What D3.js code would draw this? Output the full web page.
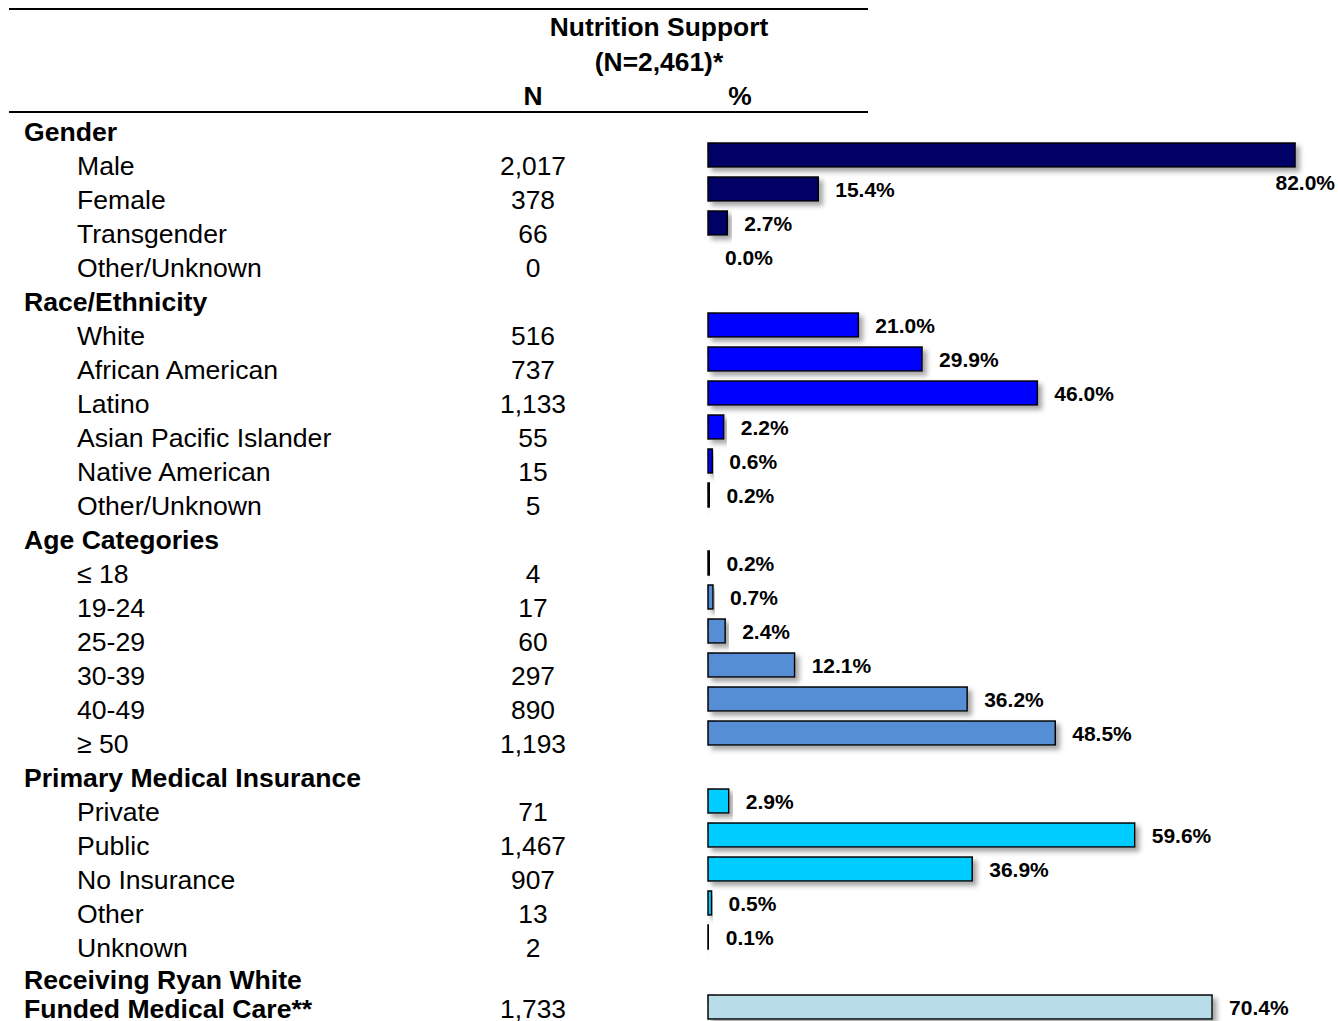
<!DOCTYPE html>
<html>
<head>
<meta charset="utf-8">
<script src="https://cdn.jsdelivr.net/npm/d3@7"></script>
<style>
  body { margin: 0; background: #fff; }
  svg text { font-family: Arial, "Liberation Sans", sans-serif; fill: #000; }
  .group { font-weight: bold; font-size: 26.6px; }
  .item { font-size: 26.6px; }
  .count { font-size: 26.4px; text-anchor: middle; }
  .head { font-weight: bold; font-size: 26.4px; text-anchor: middle; }
  .pct { font-weight: bold; font-size: 21px; }
  .bar { stroke: #000; stroke-width: 1.5; }
</style>
</head>
<body>
<div id="chart"></div>
<script>
'use strict'

const groupNames = ['Gender', 'Race/Ethnicity', 'Age Categories', 'Primary Medical Insurance']
const groupColors = ['#000066', '#0000ff', '#558ed5', '#00ccff']

const genderLabels = ['Male', 'Female', 'Transgender', 'Other/Unknown']
const genderN = [2017, 378, 66, 0]
const genderPct = [82.0, 15.4, 2.7, 0.0]

const raceLabels = ['White', 'African American', 'Latino', 'Asian Pacific Islander', 'Native American', 'Other/Unknown']
const raceN = [516, 737, 1133, 55, 15, 5]
const racePct = [21.0, 29.9, 46.0, 2.2, 0.6, 0.2]

const ageLabels = ['\u2264 18', '19-24', '25-29', '30-39', '40-49', '\u2265 50']
const ageN = [4, 17, 60, 297, 890, 1193]
const agePct = [0.2, 0.7, 2.4, 12.1, 36.2, 48.5]

const insuranceLabels = ['Private', 'Public', 'No Insurance', 'Other', 'Unknown']
const insuranceN = [71, 1467, 907, 13, 2]
const insurancePct = [2.9, 59.6, 36.9, 0.5, 0.1]

const ryanWhiteLabel = ['Receiving Ryan White', 'Funded Medical Care**']
const ryanWhiteN = 1733
const ryanWhitePct = 70.4
const ryanWhiteColor = '#b7dde8'

const width = 1338
const height = 1021
const barH = 24
const fmt = d3.format(',')

// flatten groups into table rows
const groupData = [
  [genderLabels, genderN, genderPct],
  [raceLabels, raceN, racePct],
  [ageLabels, ageN, agePct],
  [insuranceLabels, insuranceN, insurancePct]
]
const headRows = []
const rows = []
let idx = 0
groupData.forEach(([labels, ns, pcts], g) => {
  headRows.push({ label: groupNames[g], idx: idx++ })
  labels.forEach((label, i) => {
    rows.push({ label, n: ns[i], pct: pcts[i], color: groupColors[g], idx: idx++, shift: -11 })
  })
})
const lastIdx = idx
rows.push({ label: null, n: ryanWhiteN, pct: ryanWhitePct, color: ryanWhiteColor, idx: lastIdx, shift: 26, barShift: 25 })

const rowY = d3.scaleLinear().domain([0, 25]).range([132, 982])
const x = d3.scaleLinear().domain([0, 100]).range([708, 1424])

const svg = d3.select('#chart')
  .append('svg')
  .attr('width', width)
  .attr('height', height)

const shadow = svg.append('defs')
  .append('filter')
  .attr('id', 'shadow')
  .attr('x', '-20%').attr('y', '-40%')
  .attr('width', '140%').attr('height', '200%')
shadow.append('feDropShadow')
  .attr('dx', 4).attr('dy', 4)
  .attr('stdDeviation', 2.5)
  .attr('flood-color', '#7f7f7f')
  .attr('flood-opacity', 0.7)

function drawHeader () {
  svg.selectAll('line.rule')
    .data([9, 112])
    .enter()
    .append('line')
    .attr('class', 'rule')
    .attr('x1', 9)
    .attr('x2', 868)
    .attr('y1', d => d)
    .attr('y2', d => d)
    .attr('stroke', '#000')
    .attr('stroke-width', 2)

  const heads = [
    { text: 'Nutrition Support', x: 659, y: 27 },
    { text: '(N=2,461)*', x: 659, y: 62 },
    { text: 'N', x: 533, y: 96 },
    { text: '%', x: 740, y: 96 }
  ]
  svg.selectAll('text.head')
    .data(heads)
    .enter()
    .append('text')
    .attr('class', 'head')
    .attr('x', d => d.x)
    .attr('y', d => d.y)
    .attr('dy', '0.35em')
    .text(d => d.text)
}

function drawRows () {
  svg.selectAll('text.group')
    .data(headRows)
    .enter()
    .append('text')
    .attr('class', 'group')
    .attr('x', 24)
    .attr('y', d => rowY(d.idx))
    .attr('dy', '0.35em')
    .text(d => d.label)

  svg.selectAll('text.rw')
    .data(ryanWhiteLabel)
    .enter()
    .append('text')
    .attr('class', 'group rw')
    .attr('x', 24)
    .attr('y', (d, i) => rowY(lastIdx) - 2 + i * 29)
    .attr('dy', '0.35em')
    .text(d => d)

  const itemRows = rows.filter(d => d.label)
  svg.selectAll('text.item')
    .data(itemRows)
    .enter()
    .append('text')
    .attr('class', 'item')
    .attr('x', 77)
    .attr('y', d => rowY(d.idx))
    .attr('dy', '0.35em')
    .text(d => d.label)

  svg.selectAll('text.count')
    .data(rows)
    .enter()
    .append('text')
    .attr('class', 'count')
    .attr('x', 533)
    .attr('y', d => rowY(d.idx) + (d.label ? 0 : 27))
    .attr('dy', '0.35em')
    .text(d => fmt(d.n))

  const barY = d => rowY(d.idx) + (d.barShift !== undefined ? d.barShift : d.shift)

  svg.selectAll('rect.bar')
    .data(rows.filter(d => d.pct > 0))
    .enter()
    .append('rect')
    .attr('class', 'bar')
    .attr('x', x(0))
    .attr('y', d => barY(d) - barH / 2)
    .attr('width', d => x(d.pct) - x(0))
    .attr('height', barH)
    .attr('fill', d => d.color)
    .attr('filter', 'url(#shadow)')

  // value labels; the widest one wraps under its bar
  const wraps = d => x(d.pct) + 17 > width - 70
  svg.selectAll('text.pct')
    .data(rows)
    .enter()
    .append('text')
    .attr('class', 'pct')
    .attr('x', d => wraps(d) ? width - 3 : x(d.pct) + 17)
    .attr('y', d => wraps(d) ? barY(d) + barH / 2 + 16 : barY(d) + 1)
    .attr('dy', '0.35em')
    .attr('text-anchor', d => wraps(d) ? 'end' : 'start')
    .text(d => d.pct.toFixed(1) + '%')
}

drawHeader()
drawRows()
</script>
</body>
</html>
